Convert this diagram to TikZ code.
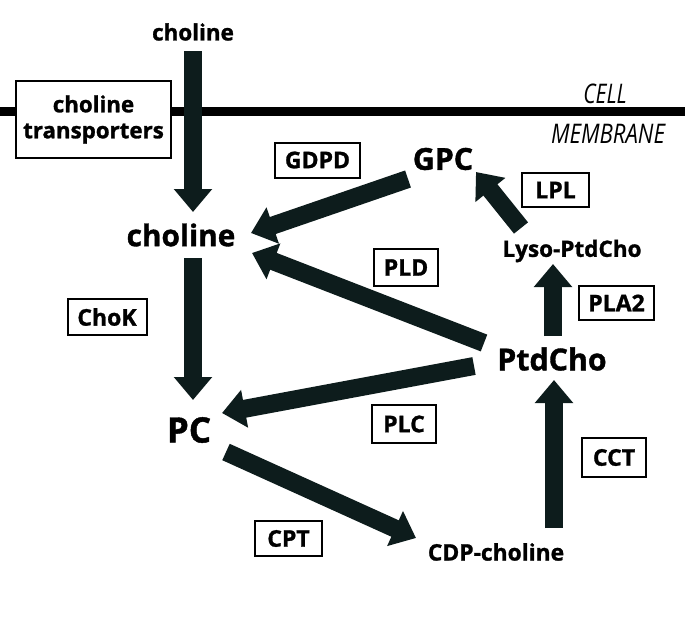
\documentclass[tikz,border=0pt]{standalone}
\usepackage{fontspec}
\setmainfont{Open Sans}[BoldFeatures={FakeBold=1.2}]
\usetikzlibrary{arrows.meta}
\definecolor{arrowcol}{RGB}{13,28,28}
\tikzset{
  fat/.style={line width=18pt, draw=arrowcol, -{Triangle[width=37pt,length=23pt]}},
  enz/.style={draw=black, line width=2pt, fill=white, inner sep=0pt, font=\bfseries\fontsize{23}{26}\selectfont, minimum height=35pt},
  met/.style={inner sep=0pt, font=\bfseries},
  memtext/.style={inner sep=0pt, font=\itshape\fontsize{27}{30}\selectfont},
}
\begin{document}
\begin{tikzpicture}[x=1pt,y=-1pt]
\useasboundingbox (0,0) rectangle (685,624);
% membrane
\coordinate (memL) at (0,111);
\coordinate (memR) at (685,111);
\draw[line width=9pt, black] (memL) -- (memR);
\node[enz, minimum width=155pt, minimum height=77pt, align=center, font=\bfseries\fontsize{22.3}{26}\selectfont] (trans) at (93.5,119.5) {choline\\transporters};
\node[memtext] (cell) at (605,94) {\scalebox{0.78}[1]{CELL}};
\node[memtext] (membrane) at (608,134) {\scalebox{0.82}[1]{MEMBRANE}};
% metabolites
\node[met, font=\bfseries\fontsize{22.4}{26}\selectfont] (cholout) at (193,32) {choline};
\node[met, font=\bfseries\fontsize{29.8}{34}\selectfont] (cholin) at (181,235) {choline};
\node[met, font=\bfseries\fontsize{30.3}{34}\selectfont] (gpc) at (443,159) {GPC};
\node[met, font=\bfseries\fontsize{22.5}{26}\selectfont] (lyso) at (572,251) {Lyso-PtdCho};
\node[met, font=\bfseries\fontsize{30.3}{34}\selectfont] (ptdcho) at (552,359) {PtdCho};
\node[met, font=\bfseries\fontsize{35}{40}\selectfont] (pc) at (189,430) {PC};
\node[met, font=\bfseries\fontsize{22.8}{26}\selectfont] (cdp) at (496,552) {CDP-choline};
% enzymes
\node[enz, minimum width=85pt] (gdpd) at (317.5,160) {GDPD};
\node[enz, minimum width=67pt, minimum height=34pt] (lpl) at (555.5,190) {LPL};
\node[enz, minimum width=64pt, minimum height=37pt] (pld) at (406,267.5) {PLD};
\node[enz, minimum width=75pt, minimum height=34pt] (pla2) at (616.5,303) {PLA2};
\node[enz, minimum width=79pt, minimum height=36pt] (chok) at (107,317) {ChoK};
\node[enz, minimum width=64pt, minimum height=38pt] (plc) at (404,424) {PLC};
\node[enz, minimum width=67pt, minimum height=35pt] (cpt) at (288.5,538.5) {CPT};
\node[enz, minimum width=64pt, minimum height=39pt] (cct) at (614,457.5) {CCT};
% arrow ends
\coordinate (a1s) at (193,51);   \coordinate (a1e) at (193,212);
\coordinate (a2s) at (408,179);  \coordinate (a2e) at (251,233);
\coordinate (a3s) at (521,228);  \coordinate (a3e) at (476,172);
\coordinate (a4s) at (553,336);  \coordinate (a4e) at (553,264);
\coordinate (a5s) at (484,343);  \coordinate (a5e) at (252,253);
\coordinate (a6s) at (474,366);  \coordinate (a6e) at (222,413);
\coordinate (a7s) at (193,258);  \coordinate (a7e) at (193,400);
\coordinate (a8s) at (226,452);  \coordinate (a8e) at (416,538);
\coordinate (a9s) at (554,528);  \coordinate (a9e) at (554,380);
\draw[fat] (a1s) -- (a1e);
\draw[fat] (a2s) -- (a2e);
\draw[fat] (a3s) -- (a3e);
\draw[fat] (a4s) -- (a4e);
\draw[fat] (a5s) -- (a5e);
\draw[fat] (a6s) -- (a6e);
\draw[fat] (a7s) -- (a7e);
\draw[fat] (a8s) -- (a8e);
\draw[fat] (a9s) -- (a9e);
\end{tikzpicture}
\end{document}
